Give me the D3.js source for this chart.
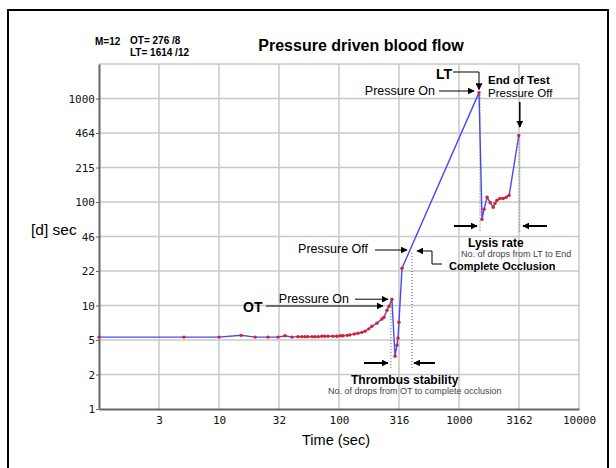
<!DOCTYPE html>
<html>
<head>
<meta charset="utf-8">
<script src="https://cdn.jsdelivr.net/npm/d3@7"></script>
<style>
	body { margin: 0; background: #fff; }
	svg { display: block; font-family: "Liberation Sans", Arial, sans-serif; }
</style>
</head>
<body>
<div id="chart"></div>
<script>
// time (sec) and clotting value ([d] sec)
const times = [1, 5.1, 10, 15.3, 20, 25.6, 31, 35.5, 40.6, 45.5, 49, 52, 55, 59.6, 63, 67, 72, 76, 81, 89, 96,
	103, 108, 117, 123, 134, 144, 155, 165, 177, 188, 207, 228, 237, 251, 261, 276,
	293, 304, 310, 316, 335,
	1468, 1555, 1617, 1714, 1818, 1928, 1995, 2072, 2196, 2330, 2470, 2618, 3150];
const values = [4.95, 4.95, 4.95, 5.15, 4.95, 4.95, 4.95, 5.1, 4.95, 5.0, 5.0, 5.0, 5.0, 5.0, 5.0, 5.0, 5.05, 5.05, 5.05, 5.05, 5.05,
	5.1, 5.1, 5.15, 5.2, 5.3, 5.4, 5.5, 5.65, 5.95, 6.3, 6.75, 7.4, 7.7, 9.0, 9.85, 11.5,
	3.24, 4.14, 4.84, 6.9, 22.9,
	1140, 68, 85, 111, 99, 89, 97, 104, 108, 108, 111, 116, 439];

const xTicks = [3.162, 10, 31.62, 100, 316.2, 1000, 3162, 10000];
const xLabels = ["3", "10", "32", "100", "316", "1000", "3162", "10000"];
const yTicks = [1, 2.154, 4.642, 10, 21.54, 46.42, 100, 215.4, 464.2, 1000];
const yLabels = ["1", "2", "5", "10", "22", "46", "100", "215", "464", "1000"];

const width = 616, height = 468;

const svg = d3.select("#chart")
	.append("svg")
	.attr("width", width)
	.attr("height", height);

// outer frame
svg.append("rect")
	.attr("x", 8).attr("y", 10)
	.attr("width", 600).attr("height", 470)
	.attr("fill", "none")
	.attr("stroke", "#000")
	.attr("stroke-width", 2);

const x = d3.scaleLog().domain([1, 10000]).range([99, 579]);
const y = d3.scaleLog().domain([1, 2154]).range([409, 64]);

// arrow head
svg.append("defs").append("marker")
	.attr("id", "head")
	.attr("viewBox", "0 0 10 10")
	.attr("refX", 9).attr("refY", 5)
	.attr("markerWidth", 7).attr("markerHeight", 7)
	.attr("markerUnits", "userSpaceOnUse")
	.attr("orient", "auto")
	.append("path")
	.attr("d", "M0,0L10,5L0,10z")
	.attr("fill", "#000");

// grid
const grid = svg.append("g").attr("stroke", "#c8c8c8").attr("stroke-width", 1.5);
grid.selectAll(".vx")
	.data(xTicks)
	.join("line")
	.attr("x1", d => x(d)).attr("x2", d => x(d))
	.attr("y1", y(1)).attr("y2", y(2154));
grid.selectAll(".hy")
	.data(yTicks.slice(1).concat([2154]))
	.join("line")
	.attr("x1", x(1)).attr("x2", x(10000))
	.attr("y1", d => y(d)).attr("y2", d => y(d));

// axes
const xAxis = svg.append("g")
	.attr("transform", `translate(0,${y(1)})`)
	.call(d3.axisBottom(x).tickValues(xTicks).tickFormat((d, i) => xLabels[i]).tickSize(0).tickPadding(7));
xAxis.select(".domain").attr("stroke", "#666").attr("stroke-width", 2);
xAxis.selectAll("text")
	.style("font-family", "'DejaVu Sans Mono', monospace")
	.style("font-size", "11px")
	.attr("fill", "#111");

const yAxis = svg.append("g")
	.attr("transform", `translate(${x(1)},0)`)
	.call(d3.axisLeft(y).tickValues(yTicks).tickFormat((d, i) => yLabels[i]).tickSize(3).tickSizeOuter(0).tickPadding(1));
yAxis.select(".domain").attr("stroke", "#666").attr("stroke-width", 2);
yAxis.selectAll(".tick line").attr("stroke", "#666");
yAxis.selectAll("text")
	.style("font-family", "'DejaVu Sans Mono', monospace")
	.style("font-size", "11px")
	.attr("fill", "#111");

// data line + points
const pts = times.map((t, i) => [t, values[i]]);
svg.append("path")
	.datum(pts)
	.attr("fill", "none")
	.attr("stroke", "#4848f8")
	.attr("stroke-width", 1.4)
	.attr("d", d3.line().x(d => x(d[0])).y(d => y(d[1])));

svg.selectAll(".pt")
	.data(pts)
	.join("circle")
	.attr("cx", d => x(d[0]))
	.attr("cy", d => y(d[1]))
	.attr("r", 1.7)
	.attr("fill", "#d8202a");

// helpers for annotations
function text(tx, ty, str, size, weight, anchor, color) {
	svg.append("text")
		.attr("x", tx).attr("y", ty)
		.attr("text-anchor", anchor || "start")
		.style("font-size", size + "px")
		.style("font-weight", weight || "normal")
		.attr("fill", color || "#000")
		.text(str);
}
function arrow(points, w) {
	svg.append("path")
		.attr("d", d3.line()(points))
		.attr("fill", "none")
		.attr("stroke", "#000")
		.attr("stroke-width", w || 1)
		.attr("marker-end", "url(#head)");
}
function dotted(tx, y1, y2) {
	svg.append("line")
		.attr("x1", tx).attr("x2", tx)
		.attr("y1", y1).attr("y2", y2)
		.attr("stroke", "#555")
		.attr("stroke-width", 1)
		.attr("stroke-dasharray", "1,2");
}

// header texts
text(95, 45, "M=12", 10, "bold");
text(130, 44, "OT= 276 /8", 10, "bold");
text(130, 56, "LT= 1614 /12", 10, "bold");
text(361, 51, "Pressure driven blood flow", 16, "bold", "middle");

// axis titles
text(31, 235, "[d] sec", 15.5);
text(336, 445, "Time (sec)", 14.5, "normal", "middle");

// OT annotations
const otX = x(276), otY = y(11.5);
text(349, 303, "Pressure On", 12.5, "normal", "end");
arrow([[355, otY], [otX - 4, otY]]);
text(243, 312, "OT", 14, "bold");
arrow([[266, 306], [383, 306]]);
text(368, 253, "Pressure Off", 12.5, "normal", "end");
arrow([[375, 250], [407, 250]]);
arrow([[442, 264], [432, 264], [432, 251], [417, 251]]);
text(449, 270, "Complete Occlusion", 11, "bold");

// thrombus stability
dotted(otX - 1, otY + 2, 368);
dotted(412, 253, 368);
arrow([[364, 363], [388, 363]], 2);
arrow([[435, 363], [414, 363]], 2);
text(351, 384, "Thrombus stability", 12, "bold");
text(328, 394, "No. of drops from OT to complete occlusion", 9, "normal", "start", "#444");

// LT annotations
const ltX = x(1468), ltY = y(1140);
const endX = x(3150), endY = y(439);
text(436, 79, "LT", 14, "bold");
arrow([[453, 72], [ltX, 72], [ltX, ltY - 3]]);
text(435, 95, "Pressure On", 12.5, "normal", "end");
arrow([[439, 91], [ltX - 5, 91]]);
text(488, 84, "End of Test", 11.5, "bold");
text(488, 97, "Pressure Off", 11.5);
arrow([[endX + 1, 102], [endX + 1, 127]], 1.5);

// lysis rate
dotted(ltX + 1, ltY + 2, 232);
dotted(endX + 1, endY + 2, 232);
arrow([[454, 226], [477, 226]], 2);
arrow([[547, 226], [523, 226]], 2);
text(468, 247, "Lysis rate", 12, "bold");
text(461, 257, "No. of drops from LT to End", 9, "normal", "start", "#444");
</script>
</body>
</html>
